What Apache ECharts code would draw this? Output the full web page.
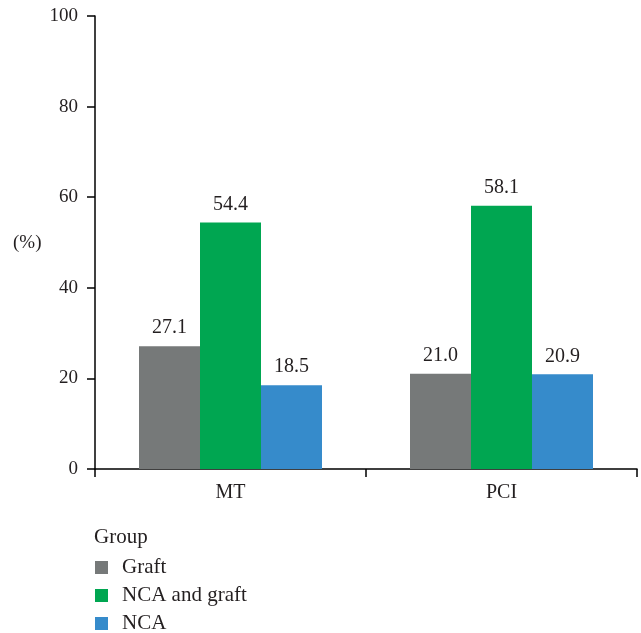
<!DOCTYPE html>
<html>
<head>
<meta charset="utf-8">
<script src="https://cdn.jsdelivr.net/npm/echarts@6/dist/echarts.min.js"></script>
<style>
  html, body { margin: 0; padding: 0; background: #fff; }
  #chart { width: 641px; height: 633px; }
</style>
</head>
<body>
<div id="chart"></div>
<script>
// Treatment arms on the x axis
const categories = ['MT', 'PCI'];
// Share (%) of each lesion group per arm
const graft = [27.1, 21.0];
const ncaAndGraft = [54.4, 58.1];
const nca = [18.5, 20.9];
const groupNames = ['Graft', 'NCA and graft', 'NCA'];
const yTicks = [0, 20, 40, 60, 80, 100];

const FONT = '"Liberation Serif", "DejaVu Serif", serif';
const INK = '#231f20';

const chart = echarts.init(document.getElementById('chart'));

function barSeries(name, data, color) {
  return {
    name: name,
    type: 'bar',
    data: data,
    barWidth: 61,
    barGap: '0%',
    itemStyle: { color: color },
    label: {
      show: true,
      position: 'top',
      distance: 8,
      color: INK,
      fontFamily: FONT,
      fontSize: 20,
      formatter: p => p.value.toFixed(1)
    }
  };
}

// One legend block per group, stacked under the "Group" heading
function legendRow(name, top) {
  return {
    orient: 'vertical',
    left: 95,
    top: top,
    padding: 0,
    icon: 'rect',
    itemWidth: 13,
    itemHeight: 13,
    textStyle: { color: INK, fontFamily: FONT, fontSize: 21, lineHeight: 13, padding: [0, 0, 0, 9] },
    data: [name]
  };
}

chart.setOption({
  animation: false,
  grid: { left: 95, right: 4, top: 16, bottom: 164, containLabel: false },
  xAxis: {
    type: 'category',
    data: categories,
    axisLine: { lineStyle: { color: '#000', width: 1.5 } },
    axisTick: { show: true, length: 8, lineStyle: { color: '#000', width: 1.5 } },
    axisLabel: { color: INK, fontFamily: FONT, fontSize: 20, margin: 14 }
  },
  yAxis: {
    type: 'value',
    min: yTicks[0],
    max: yTicks[yTicks.length - 1],
    interval: 20,
    splitLine: { show: false },
    axisLine: { show: true, lineStyle: { color: '#000', width: 1.5 } },
    axisTick: { show: true, length: 8, lineStyle: { color: '#000', width: 1.5 } },
    axisLabel: { color: INK, fontFamily: FONT, fontSize: 19, margin: 17 }
  },
  legend: [
    legendRow(groupNames[0], 557),
    legendRow(groupNames[1], 585),
    legendRow(groupNames[2], 613)
  ],
  graphic: [
    {
      type: 'text',
      left: 13,
      top: 234,
      style: { text: '(%)', fill: INK, font: '19px ' + FONT }
    },
    {
      type: 'text',
      left: 94,
      top: 527,
      style: { text: 'Group', fill: INK, font: '21px ' + FONT }
    }
  ],
  series: [
    barSeries(groupNames[0], graft, '#767979'),
    barSeries(groupNames[1], ncaAndGraft, '#00a651'),
    barSeries(groupNames[2], nca, '#368bcb')
  ]
});
</script>
</body>
</html>
